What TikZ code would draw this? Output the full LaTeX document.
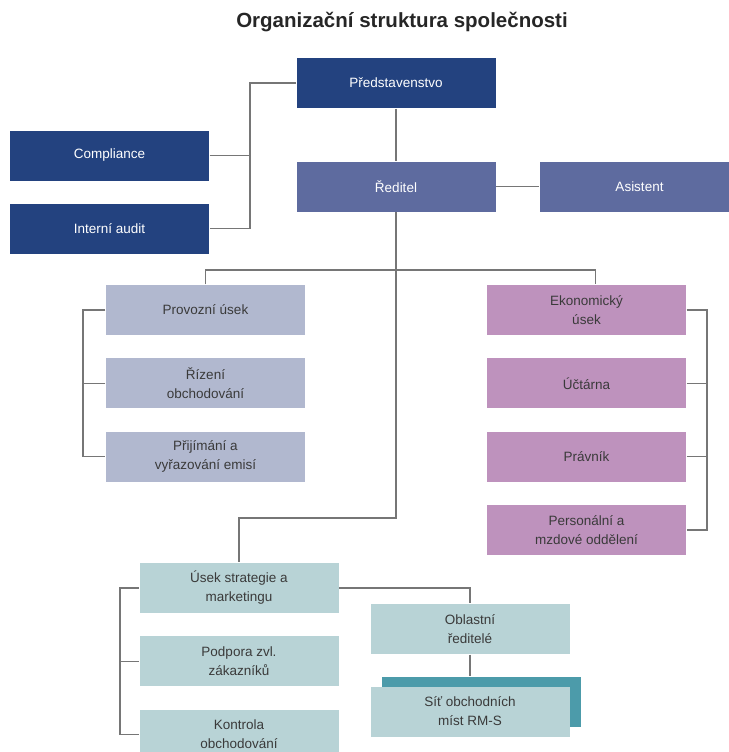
\documentclass[tikz,border=0pt]{standalone}
\usepackage{fontspec}
\setmainfont{Liberation Sans}
\usetikzlibrary{positioning}

\definecolor{boardblue}{HTML}{23427F}
\definecolor{headblue}{HTML}{5E6B9F}
\definecolor{opsgray}{HTML}{B1B8CF}
\definecolor{econpink}{HTML}{BE92BD}
\definecolor{mktteal}{HTML}{B8D3D6}
\definecolor{shadowteal}{HTML}{4C9BAA}
\definecolor{linegray}{HTML}{767676}
\definecolor{textgray}{HTML}{3A3A3A}

\begin{document}
\begin{tikzpicture}[x=1pt,y=-1pt,node distance=22pt,line width=1.3pt]

  \tikzstyle{box}=[rectangle,minimum width=199pt,minimum height=50pt,inner sep=0pt,
                   align=center,font=\fontsize{13.5}{19}\selectfont,text=textgray]
  \tikzstyle{board}=[box,fill=boardblue,text=white]
  \tikzstyle{head}=[box,fill=headblue,text=white]
  \tikzstyle{ops}=[box,fill=opsgray]
  \tikzstyle{econ}=[box,fill=econpink]
  \tikzstyle{mkt}=[box,fill=mktteal]
  \tikzstyle{link}=[draw=linegray]

  \useasboundingbox (0,0) rectangle (728,752);

  \node[font=\bfseries\fontsize{20.5}{23}\selectfont,text=black!85] (title) at (402,22)
       {Organizační struktura společnosti};

  \node[board] (pred) at (396,83)      {Představenstvo};
  \node[board] (comp) at (109.5,155.5) {Compliance};
  \node[board] (audit) [below=22pt of comp] {Interní audit};
  \node[head]  (red)  at (396,186.5)   {Ředitel};
  \node[head]  (asist) at (639.5,186.5) {Asistent};

  \node[ops] (prov) at (205.5,310)     {Provozní úsek};
  \node[ops] (riz)  [below=of prov]    {Řízení\\obchodování};
  \node[ops] (prij) [below=of riz]     {Přijímání a\\vyřazování emisí};

  \node[econ] (ekon) at (586.5,310)    {Ekonomický\\úsek};
  \node[econ] (uct)  [below=of ekon]   {Účtárna};
  \node[econ] (prav) [below=of uct]    {Právník};
  \node[econ] (pers) [below=of prav]   {Personální a\\mzdové oddělení};

  \node[mkt] (usek) at (239,588)       {Úsek strategie a\\marketingu};
  \node[mkt] (podp) [below=of usek]    {Podpora zvl.\\zákazníků};
  \node[mkt] (kont) [below=of podp]    {Kontrola\\obchodování};

  \node[mkt] (obl) at (470,629)        {Oblastní\\ředitelé};
  \node[box,fill=shadowteal] (sitS) at (481.5,702) {};
  \node[mkt] (sit) at (470,711.5)      {Síť obchodních\\míst RM-S};

  \coordinate (jA) at (250,83);
  \coordinate (jB) at (396,270);
  \coordinate (jC) at (396,518);
  \coordinate (jL) at (83,310);
  \coordinate (jR) at (707,310);
  \coordinate (jM) at (120,588);

  \path[link]
  (pred.south) edge (red.north)
  (red.east)   edge (asist.west)
  (comp.east)  edge (comp.east -| jA)
  (riz.west)   edge (riz.west -| jL)
  (uct.east)   edge (uct.east -| jR)
  (prav.east)  edge (prav.east -| jR)
  (podp.west)  edge (podp.west -| jM)
  (obl.south)  edge (obl.south |- sitS.north);

  \draw[link] (pred.west) -- (jA) |- (audit.east);
  \draw[link] (red.south) -- (jC) -| (usek.north);
  \draw[link] (prov.north) |- (jB) -| ([xshift=9pt]ekon.north);
  \draw[link] (prov.west) -- (jL) |- (prij.west);
  \draw[link] (ekon.east) -- (jR) |- (pers.east);
  \draw[link] (usek.west) -- (jM) |- (kont.west);
  \draw[link] (usek.east) -| (obl.north);
\end{tikzpicture}
\end{document}
